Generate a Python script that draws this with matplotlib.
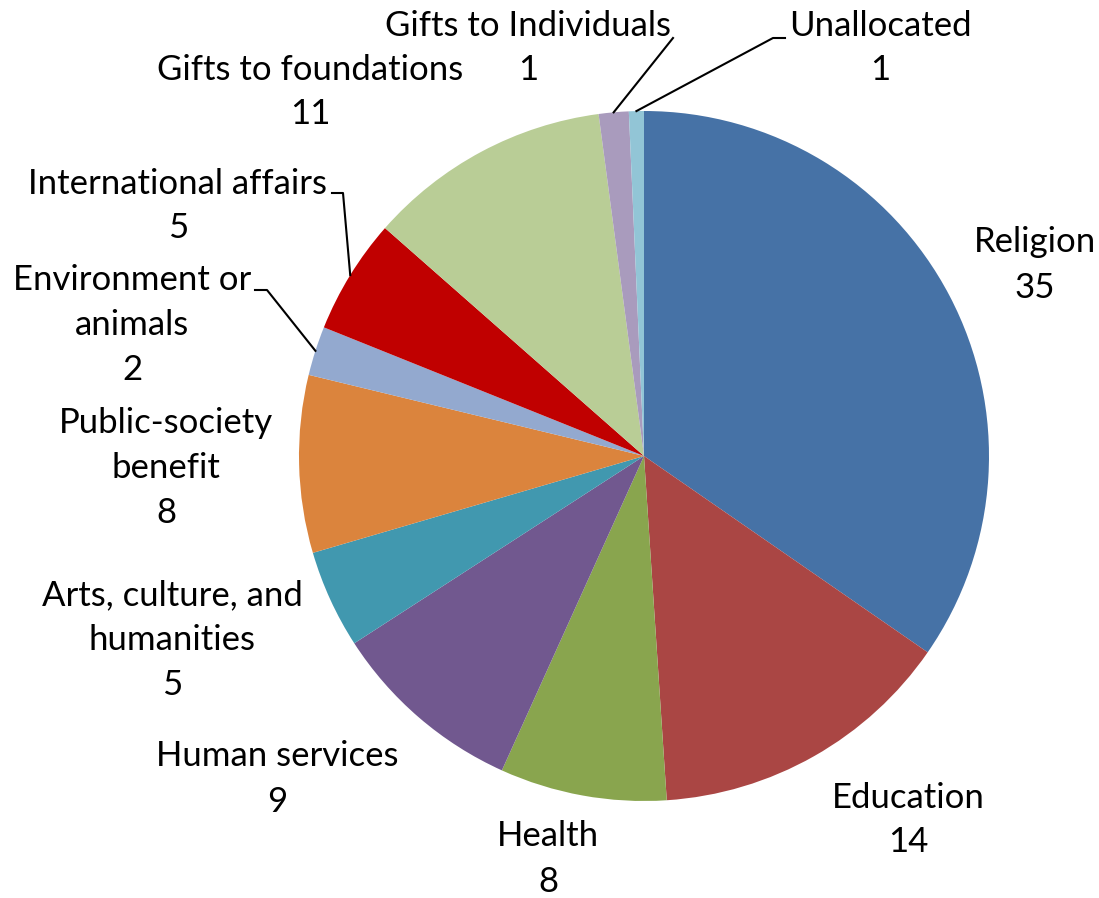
import numpy as np
import matplotlib
matplotlib.use("Agg")
import matplotlib.pyplot as plt

# --- data (shares, clockwise from 12 o'clock) ------------------------------
categories = ["Religion", "Education", "Health", "Human services",
              "Arts, culture, and\nhumanities", "Public-society\nbenefit",
              "Environment or\nanimals", "International affairs",
              "Gifts to foundations", "Gifts to Individuals", "Unallocated"]
shares = [34.6, 14.3, 7.8, 9.1, 4.6, 8.3, 2.3, 5.4, 11.4, 1.4, 0.7]
colors = ["#4672A6", "#AA4644", "#89A54E", "#71588F", "#4198AF", "#DB843D",
          "#93A9CF", "#C00000", "#B9CD96", "#A99BBD", "#92C5D6"]

# label block centres in pixel coords (x, y from top)
label_pos = [(1035, 265), (908, 820), (548, 859), (277, 779), (172, 640),
             (166, 468), (132, 325), (178, 206), (310, 92), (528, 48), (880, 48)]
LINE_H = 45  # px between label lines
# leader lines: index -> start point (text side), optional elbow
leaders = {6: [(255, 290), (267, 290)],
           7: [(332, 193), (343, 193)],
           9: [(673, 38)],
           10: [(785, 38), (773, 38)]}

W, H = 1099, 898
CX, CY, R = 644, 456, 345

fig = plt.figure(figsize=(W / 100, H / 100), dpi=100)
ax = fig.add_axes([0, 0, 1, 1])

wedges, _ = ax.pie(shares, colors=colors, startangle=90, counterclock=False,
                   center=(CX, H - CY), radius=R,
                   wedgeprops=dict(linewidth=0))
ax.set_xlim(0, W)
ax.set_ylim(0, H)
ax.set_aspect("equal")
ax.axis("off")

font = dict(family="Lato", size=25, color="black")
for name, val, (x, y) in zip(categories, shares, label_pos):
    lines = name.split("\n") + [f"{val:.0f}"]
    n = len(lines)
    # one text per line, so boxes stay tight like Excel's labels
    for k, line in enumerate(lines):
        ly = y + (k - (n - 1) / 2) * LINE_H
        ax.text(x, H - ly, line, ha="center", va="center", **font)

# leader lines to the middle of the small wedges' outer edge
for i, pts in leaders.items():
    w = wedges[i]
    mid = np.deg2rad((w.theta1 + w.theta2) / 2)
    end = (CX + R * np.cos(mid), H - CY + R * np.sin(mid))
    xs = [p[0] for p in pts] + [end[0]]
    ys = [H - p[1] for p in pts] + [end[1]]
    ax.plot(xs, ys, color="black", linewidth=1.5)

fig.savefig("out.png", dpi=100)
